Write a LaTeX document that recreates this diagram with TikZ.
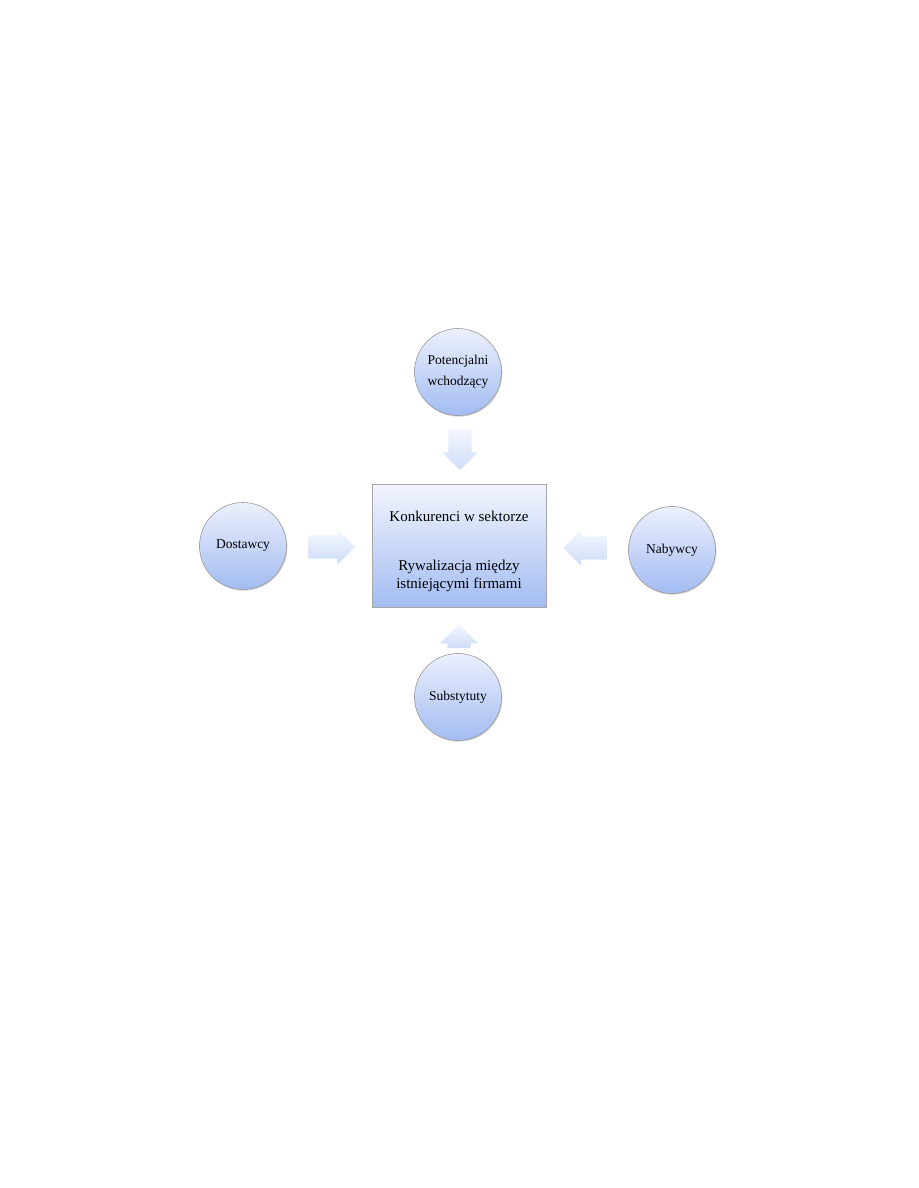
\documentclass[tikz,border=0pt]{standalone}
\usepackage{fontspec}
\setmainfont{Liberation Serif}
\usepackage{xcolor}
\usetikzlibrary{shapes.arrows,shadows}
\definecolor{paleblue}{RGB}{236,240,253}
\definecolor{midblue}{RGB}{163,188,242}
\definecolor{arrtop}{RGB}{244,247,254}
\definecolor{arrbot}{RGB}{206,220,248}

\begin{document}
\begin{tikzpicture}[x=0.6667pt,y=-0.6667pt,
  forcenode/.style={circle,draw=gray!80,thin,minimum size=58pt,inner sep=1pt,
    top color=paleblue,bottom color=midblue,align=center,font=\small,
    drop shadow={shadow xshift=.6pt,shadow yshift=-.8pt,opacity=.35}},
  sectorbox/.style={rectangle,draw=gray!70,thin,minimum width=116pt,minimum height=82pt,
    top color=paleblue!70!white,bottom color=midblue},
  blockarrow/.style={single arrow,inner xsep=0pt,inner ysep=7.5pt,single arrow head extend=4pt,
    top color=arrtop,bottom color=arrbot,draw=none},
  uparrow/.style={blockarrow,inner xsep=7.5pt,inner ysep=0pt}]
  \useasboundingbox (0,0) rectangle (918,1188);
  % rivalry in the sector
  \node[sectorbox] (sector) at (459,546) {};
  \node[align=center,font=\normalsize] (sectortext) at ([yshift=-3.5pt]sector.center)
    {Konkurenci w sektorze\\[21pt]Rywalizacja między\\istniejącymi firmami};
  % the four forces
  \foreach \nm/\x/\y/\t in {entrants/458/372/{Potencjalni\\[3pt]wchodzący},suppliers/243/546/Dostawcy,buyers/672/550/Nabywcy,substitutes/458/697/Substytuty}
    \node[forcenode] (\nm) at (\x,\y) {\t};
  % pressure arrows
  \node[uparrow,shape border rotate=270,minimum height=27pt] (aentr) at (460,444) {};
  \node[blockarrow,minimum height=31pt] (asupp) at (326,547) {};
  \node[blockarrow,shape border rotate=180,minimum height=29pt] (abuy) at (591,548) {};
  \node[uparrow,shape border rotate=90,minimum height=16pt,single arrow head extend=5pt] (asubs) at (459,642) {};
\end{tikzpicture}
\end{document}
